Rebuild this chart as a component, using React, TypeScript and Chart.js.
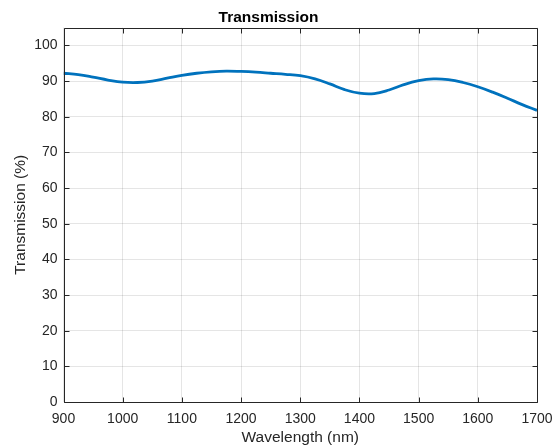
import React, { useEffect, useRef } from "react";
import { Chart, registerables } from "chart.js";

Chart.register(...registerables);

const wavelengths = [900, 925, 950, 975, 1000, 1025, 1050, 1075, 1100, 1125, 1150, 1175, 1200, 1225, 1250, 1275, 1300, 1325, 1350, 1375, 1400, 1425, 1450, 1475, 1500, 1525, 1550, 1575, 1600, 1625, 1650, 1675, 1700];
const transmission = [92.2, 91.8, 91.1, 90.3, 89.7, 89.6, 90.0, 90.8, 91.6, 92.2, 92.6, 92.8, 92.7, 92.5, 92.2, 91.9, 91.5, 90.6, 89.2, 87.6, 86.6, 86.5, 87.5, 89.0, 90.1, 90.6, 90.4, 89.6, 88.4, 86.9, 85.2, 83.4, 81.8];
const xTicks = [900, 1000, 1100, 1200, 1300, 1400, 1500, 1600, 1700];
const yTicks = [0, 10, 20, 30, 40, 50, 60, 70, 80, 90, 100];

const TEXT = "#262626";
const FONT = "'Liberation Sans', Arial, Helvetica, sans-serif";

const boxPlugin = {
  id: "matlabBox",
  afterDraw(chart: any) {
    const { ctx, chartArea } = chart;
    const { left, right, top, bottom } = chartArea;
    const xs = chart.scales.x;
    const ys = chart.scales.y;
    ctx.save();
    ctx.strokeStyle = TEXT;
    ctx.lineWidth = 1;
    ctx.beginPath();
    const L = Math.round(left) + 0.5, R = Math.round(right) + 0.5, T = Math.round(top) + 0.5, B = Math.round(bottom) + 0.5;
    ctx.rect(L, T, R - L, B - T);
    ctx.stroke();
    const tl = 5;
    ctx.beginPath();
    xTicks.forEach((v) => {
      const px = Math.round(xs.getPixelForValue(v)) + 0.5;
      ctx.moveTo(px, B); ctx.lineTo(px, B - tl);
      ctx.moveTo(px, T); ctx.lineTo(px, T + tl);
    });
    yTicks.forEach((v) => {
      const py = Math.round(ys.getPixelForValue(v)) + 0.5;
      ctx.moveTo(L, py); ctx.lineTo(L + tl, py);
      ctx.moveTo(R, py); ctx.lineTo(R - tl, py);
    });
    ctx.stroke();
    ctx.restore();
  },
};

export default function App() {
  const ref = useRef<HTMLCanvasElement>(null);
  useEffect(() => {
    if (!ref.current) return;
    const chart = new Chart(ref.current, {
      type: "line",
      data: {
        datasets: [
          {
            data: wavelengths.map((w, i) => ({ x: w, y: transmission[i] })),
            borderColor: "#0072BD",
            borderWidth: 2.8,
            pointRadius: 0,
            tension: 0.4,
            fill: false,
          },
        ],
      },
      options: {
        responsive: false,
        animation: false,
        layout: { padding: { left: 0, right: 20, top: 0, bottom: 0 } },
        plugins: {
          legend: { display: false },
          tooltip: { enabled: false },
          title: {
            display: true,
            text: "Transmission",
            color: "#000",
            font: { family: FONT, size: 15.5, weight: "bold" },
            padding: { top: 8, bottom: 1 },
          },
        },
        scales: {
          x: {
            type: "linear",
            min: 900,
            max: 1700,
            afterBuildTicks: (s: any) => { s.ticks = xTicks.map((v) => ({ value: v })); },
            afterFit: (s: any) => { s.height = 46; s.paddingLeft = 0; s.paddingRight = 0; },
            grid: { color: "rgba(38,38,38,0.12)", drawTicks: false },
            border: { display: false },
            ticks: { color: TEXT, font: { family: FONT, size: 14 }, padding: 9, maxRotation: 0, callback: (v: any) => String(v) },
            title: { display: true, text: "Wavelength (nm)", color: TEXT, font: { family: FONT, size: 15.5 }, padding: { top: 0, bottom: 1 } },
          },
          y: {
            type: "linear",
            min: 0,
            max: 105,
            afterBuildTicks: (s: any) => { s.ticks = yTicks.map((v) => ({ value: v })); },
            afterFit: (s: any) => { s.width = 63.5; s.paddingTop = 0; s.paddingBottom = 0; },
            grid: { color: "rgba(38,38,38,0.12)", drawTicks: false },
            border: { display: false },
            ticks: { color: TEXT, font: { family: FONT, size: 14 }, padding: 6, callback: (v: any) => String(v) },
            title: { display: true, text: "Transmission (%)", color: TEXT, font: { family: FONT, size: 15.5 }, padding: { top: 11, bottom: 0 } },
          },
        },
      },
      plugins: [boxPlugin],
    });
    return () => chart.destroy();
  }, []);
  return (
    <div style={{ position: "fixed", left: 0, top: 0, width: 557, height: 448, background: "#fff" }}>
      <canvas ref={ref} width={557} height={448} style={{ display: "block" }} />
    </div>
  );
}
